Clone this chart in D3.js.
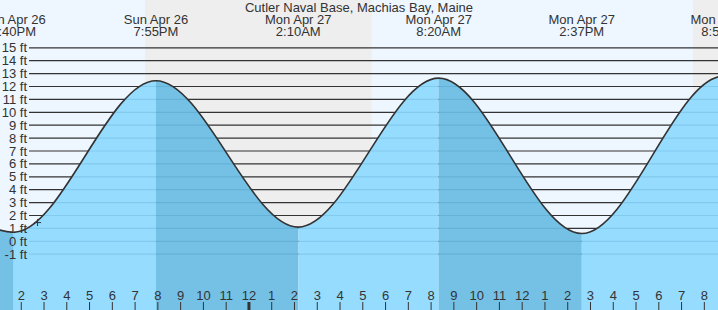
<!DOCTYPE html>
<meta charset="utf-8">
<style>
body { margin: 0; overflow: hidden; background: #fff; }
text { font-family: "Liberation Sans", Arial, sans-serif; font-size: 13px; fill: #333; }
</style>
<body>
<script src="https://cdn.jsdelivr.net/npm/d3@7"></script>
<script>

var WIDTH = 718;
var HEIGHT = 310;

// tide extremes (highs and lows), feet
var tideTimes = ["2026-04-26 07:28", "2026-04-26 13:40", "2026-04-26 19:55", "2026-04-27 02:10",
                 "2026-04-27 08:20", "2026-04-27 14:37", "2026-04-27 20:51", "2026-04-28 03:05"];
var tideHeights = [12.3, 0.7, 12.45, 1.1, 12.65, 0.6, 12.8, 0.9];

// night (sunset -> sunrise)
var nightStart = ["2026-04-26 19:26", "2026-04-27 19:30"];
var nightEnd = ["2026-04-27 05:23", "2026-04-28 05:22"];

// current time marker
var nowTime = "2026-04-26 14:43";
var nowHeight = 1.45;

var ftTicks = [-1, 0, 1, 2, 3, 4, 5, 6, 7, 8, 9, 10, 11, 12, 13, 14, 15];
var title = "Cutler Naval Base, Machias Bay, Maine";

var DAY_COLOR = '#eef6ff';
var NIGHT_COLOR = '#eeeeee';
var FLOOD_COLOR = '#96dcff';
var EBB_COLOR = '#74c1e5';
var LINE_COLOR = '#333';

var parse = d3.timeParse("%Y-%m-%d %H:%M");
var tides = tideTimes.map(function(t, i) { return {t: parse(t), h: tideHeights[i]}; });

var x = d3.scaleTime()
    .domain([parse("2026-04-26 13:04"), parse("2026-04-27 20:36")])
    .range([0, WIDTH]);
var y = d3.scaleLinear()
    .domain([-1, 15])
    .range([254.2, 47.8]);

var svg = d3.select('body').append('svg')
    .attr('width', WIDTH)
    .attr('height', HEIGHT);

// background day / night
svg.append('rect')
    .attr('x', 0).attr('y', 0)
    .attr('width', WIDTH).attr('height', HEIGHT)
    .attr('fill', DAY_COLOR);
nightStart.forEach(function(s, i) {
  var x0 = x(parse(s)), x1 = x(parse(nightEnd[i]));
  svg.append('rect')
      .attr('x', x0).attr('y', 0)
      .attr('width', x1 - x0).attr('height', HEIGHT)
      .attr('fill', NIGHT_COLOR);
});

// grid lines (dark, above water)
svg.selectAll('line.grid')
    .data(ftTicks)
  .enter().append('line')
    .attr('class', 'grid')
    .attr('x1', 29).attr('x2', WIDTH)
    .attr('y1', function(d) { return y(d); })
    .attr('y2', function(d) { return y(d); })
    .attr('stroke', LINE_COLOR)
    .attr('stroke-width', 1.2);

// water
var area = d3.area()
    .curve(d3.curveMonotoneX)
    .x(function(d) { return x(d.t); })
    .y0(HEIGHT)
    .y1(function(d) { return y(d.h); });
var line = d3.line()
    .curve(d3.curveMonotoneX)
    .x(function(d) { return x(d.t); })
    .y(function(d) { return y(d.h); });

svg.append('clipPath').attr('id', 'water')
  .append('path').attr('d', area(tides));

var water = svg.append('g').attr('clip-path', 'url(#water)');
for (i = 0; i < tides.length - 1; ++i) {
  var xa = x(tides[i].t), xb = x(tides[i + 1].t);
  water.append('rect')
      .attr('x', xa).attr('y', 0)
      .attr('width', xb - xa).attr('height', HEIGHT)
      .attr('fill', tides[i].h > tides[i + 1].h ? EBB_COLOR : FLOOD_COLOR);
}
// grid lines seen through the water
water.selectAll('line')
    .data(ftTicks)
  .enter().append('line')
    .attr('x1', 29).attr('x2', WIDTH)
    .attr('y1', function(d) { return y(d); })
    .attr('y2', function(d) { return y(d); })
    .attr('stroke', 'rgba(0,70,120,0.12)')
    .attr('stroke-width', 1.2);

svg.append('path')
    .attr('d', line(tides))
    .attr('fill', 'none')
    .attr('stroke', LINE_COLOR)
    .attr('stroke-width', 1.6);

// y labels
svg.selectAll('text.ylab')
    .data(ftTicks)
  .enter().append('text')
    .attr('class', 'ylab')
    .attr('x', 27)
    .attr('y', function(d) { return y(d) + 4.5; })
    .attr('text-anchor', 'end')
    .text(function(d) { return d + ' ft'; });

// hour ticks
var hours = x.ticks(d3.timeHour.every(1));
var hourFmt = d3.timeFormat('%-I');
svg.selectAll('line.tick')
    .data(hours)
  .enter().append('line')
    .attr('class', 'tick')
    .attr('x1', function(d) { return x(d); })
    .attr('x2', function(d) { return x(d); })
    .attr('y1', 302).attr('y2', HEIGHT)
    .attr('stroke', LINE_COLOR)
    .attr('stroke-width', function(d) { return d.getHours() == 0 ? 3 : 1; });
svg.selectAll('text.hour')
    .data(hours)
  .enter().append('text')
    .attr('class', 'hour')
    .attr('x', function(d) { return x(d); })
    .attr('y', 300)
    .attr('text-anchor', 'middle')
    .text(hourFmt);

// tide labels
var dateFmt = d3.timeFormat('%a %b %d');
var timeFmt = d3.timeFormat('%-I:%M%p');
var labels = svg.selectAll('g.tlab')
    .data(tides)
  .enter().append('g')
    .attr('class', 'tlab')
    .attr('transform', function(d) { return 'translate(' + x(d.t) + ',0)'; });
labels.append('text')
    .attr('y', 24)
    .attr('text-anchor', 'middle')
    .text(function(d) { return dateFmt(d.t); });
labels.append('text')
    .attr('y', 36)
    .attr('text-anchor', 'middle')
    .text(function(d) { return timeFmt(d.t); });

svg.append('text')
    .attr('x', 359)
    .attr('y', 12)
    .attr('text-anchor', 'middle')
    .text(title);

// now marker
var nx = x(parse(nowTime)), ny = y(nowHeight);
svg.append('path')
    .attr('d', 'M' + (nx - 3.5) + ',' + ny + 'H' + (nx + 3.5) + 'M' + nx + ',' + (ny - 3.5) + 'V' + (ny + 3.5))
    .attr('stroke', LINE_COLOR)
    .attr('stroke-width', 1);

</script>
